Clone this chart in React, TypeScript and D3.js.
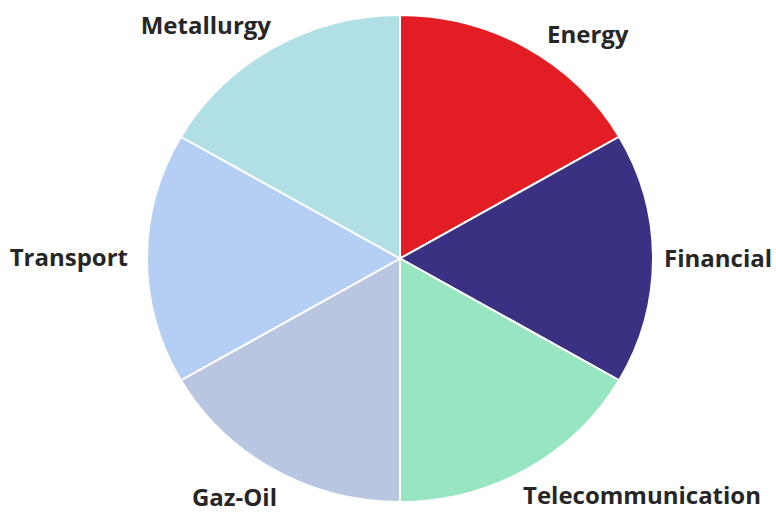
import React from "react";
import * as d3 from "d3";

const categories = ["Energy", "Financial", "Telecommunication", "Gaz-Oil", "Transport", "Metallurgy"];
const values = [1, 1, 1, 1, 1, 1];
const colors = ["#e21d24", "#3a3183", "#98e6c1", "#b8c6e1", "#b5cef4", "#b0dfe5"];

const W = 776;
const H = 513;
const cx = 400;
const cy = 258.5;
const rx = 253;
const ry = 243.5;

// small label nudges (layout only)
const nudge: Record<string, [number, number]> = {
  Energy: [16, 10],
  Financial: [2, 0],
  Telecommunication: [-8, 4],
  "Gaz-Oil": [8, 9],
  Transport: [-10, -1],
  Metallurgy: [2, 1],
};

export default function App() {
  const pie = d3.pie<number>().sort(null).value((d) => d);
  const arcs = pie(values);
  const arc = d3.arc<d3.PieArcDatum<number>>().innerRadius(0).outerRadius(ry);
  const fontSize = 24;
  return (
    <svg
      width={W}
      height={H}
      style={{ position: "absolute", left: 0, top: 0, background: "#fff" }}
    >
      <g transform={`translate(${cx},${cy}) scale(${rx / ry},1)`}>
        {arcs.map((a, i) => (
          <path
            key={categories[i]}
            d={arc(a) || ""}
            fill={colors[i]}
            stroke="#ffffff"
            strokeWidth={2}
            vectorEffect="non-scaling-stroke"
          />
        ))}
      </g>
      {arcs.map((a, i) => {
        const mid = (a.startAngle + a.endAngle) / 2;
        const s = Math.sin(mid);
        const c = Math.cos(mid);
        const lx = cx + 262 * s;
        const ly = cy - 270 * c;
        const anchor = s > 0.01 ? "start" : s < -0.01 ? "end" : "middle";
        const [dx, dy] = nudge[categories[i]] || [0, 0];
        return (
          <text
            key={"l" + categories[i]}
            x={lx + dx}
            y={Math.min(ly + dy + 8, 506)}
            textAnchor={anchor}
            fontFamily="'Open Sans', sans-serif"
            fontWeight="bold"
            fontSize={fontSize}
            fill="#262626"
          >
            {categories[i]}
          </text>
        );
      })}
    </svg>
  );
}
